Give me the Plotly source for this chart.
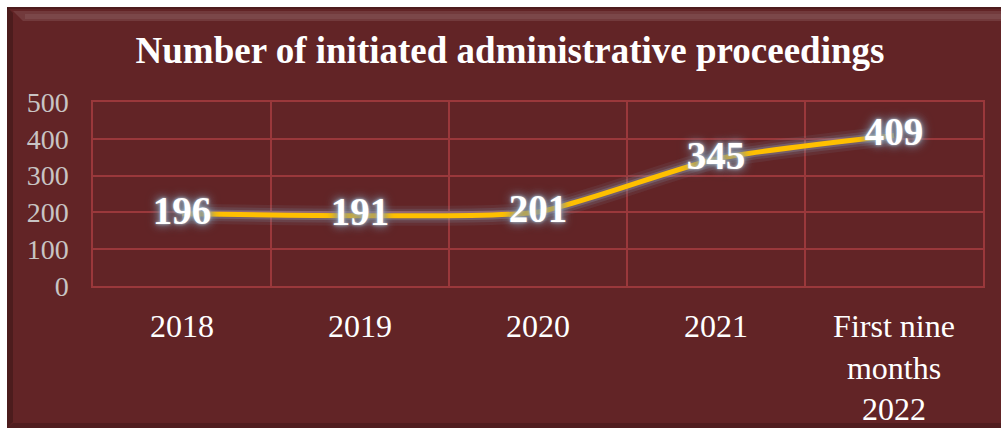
import plotly.graph_objects as go

categories = ["2018", "2019", "2020", "2021", "First nine<br>months<br>2022"]
values = [196, 191, 201, 345, 409]
y_ticks = [0, 100, 200, 300, 400, 500]
title_text = "Number of initiated administrative proceedings"

W, H = 1001, 431
L, R, T, B = 93, 18, 102, 145
PW, PH = W - L - R, H - T - B

def px_x(p):
    return (p - L) / PW

def px_y(p):
    return (H - B - p) / PH

BG = "#622426"
GRID = "#9a383b"
FONT = "Liberation Serif"

fig = go.Figure()

# glow layers under the line
for w, c in [(20, "rgba(120,140,160,0.12)"), (14, "rgba(130,150,170,0.18)"), (9, "rgba(150,170,190,0.28)")]:
    fig.add_trace(go.Scatter(x=categories, y=values, mode="lines",
                             line=dict(color=c, width=w, shape="spline", smoothing=0.6),
                             hoverinfo="skip", showlegend=False))

fig.add_trace(go.Scatter(
    x=categories, y=values, mode="lines+text",
    line=dict(color="#FFC000", width=5, shape="spline", smoothing=0.6),
    text=[str(v) for v in values], textposition="middle center",
    textfont=dict(family=FONT, size=39, color="white", weight="bold",
                  shadow="0px 0px 3px #b8c8d8, 0px 0px 8px #7f95a8, 0px 0px 12px #6f8598"),
    showlegend=False))

shapes = [
    dict(type="rect", xref="paper", yref="paper", layer="below",
         x0=px_x(7), x1=px_x(1001), y0=px_y(428), y1=px_y(7),
         fillcolor=BG, line=dict(width=0)),
    # top bevel highlight
    dict(type="path", xref="paper", yref="paper", layer="below",
         path=f"M {px_x(13)},{px_y(11)} L {px_x(1001)},{px_y(11)} L {px_x(1001)},{px_y(21)} L {px_x(23)},{px_y(21)} Z",
         fillcolor="rgba(255,255,255,0.10)", line=dict(width=0)),
    dict(type="rect", xref="paper", yref="paper", layer="below",
         x0=px_x(25), x1=px_x(1001), y0=px_y(19), y1=px_y(14),
         fillcolor="rgba(255,255,255,0.07)", line=dict(width=0)),
    # left bevel dark
    dict(type="path", xref="paper", yref="paper", layer="below",
         path=f"M {px_x(7)},{px_y(7)} L {px_x(13)},{px_y(13)} L {px_x(13)},{px_y(422)} L {px_x(7)},{px_y(428)} Z",
         fillcolor="rgba(0,0,0,0.22)", line=dict(width=0)),
    # bottom bevel dark
    dict(type="path", xref="paper", yref="paper", layer="below",
         path=f"M {px_x(13)},{px_y(423)} L {px_x(1001)},{px_y(423)} L {px_x(1001)},{px_y(428)} L {px_x(7)},{px_y(428)} Z",
         fillcolor="rgba(0,0,0,0.18)", line=dict(width=0)),
    # top dark edge
    dict(type="rect", xref="paper", yref="paper", layer="below",
         x0=px_x(7), x1=px_x(1001), y0=px_y(9), y1=px_y(7),
         fillcolor="rgba(0,0,0,0.2)", line=dict(width=0)),
]

fig.update_layout(
    width=W, height=H,
    margin=dict(l=L, r=R, t=T, b=B, pad=0, autoexpand=False),
    paper_bgcolor="white",
    plot_bgcolor="rgba(0,0,0,0)",
    shapes=shapes,
    title=dict(text=f"<b>{title_text}</b>", x=510 / W, xanchor="center", xref="container",
               y=1 - 50 / H, yanchor="middle", yref="container",
               font=dict(family=FONT, size=37, color="white")),
    xaxis=dict(type="category", range=[-0.5, 4.5], autorange=False, tickson="boundaries",
               showgrid=True, gridcolor=GRID, gridwidth=1.5,
               showline=True, linecolor=GRID, linewidth=1.5, mirror=True, ticks="",
               tickfont=dict(family=FONT, size=32, color="white"), ticklabelstandoff=11,
               zeroline=False, automargin=False),
    yaxis=dict(range=[0, 500], autorange=False, tickvals=y_ticks, showgrid=True, gridcolor=GRID, gridwidth=1.5,
               showline=True, linecolor=GRID, linewidth=1.5, mirror=True, ticks="",
               tickfont=dict(family=FONT, size=28, color="#c8c4c4"), ticklabelstandoff=17,
               zeroline=False, automargin=False),
)

fig.write_html("out.html", config={"displayModeBar": False},
               post_script="document.body.style.margin='0';document.body.style.overflow='hidden';")
